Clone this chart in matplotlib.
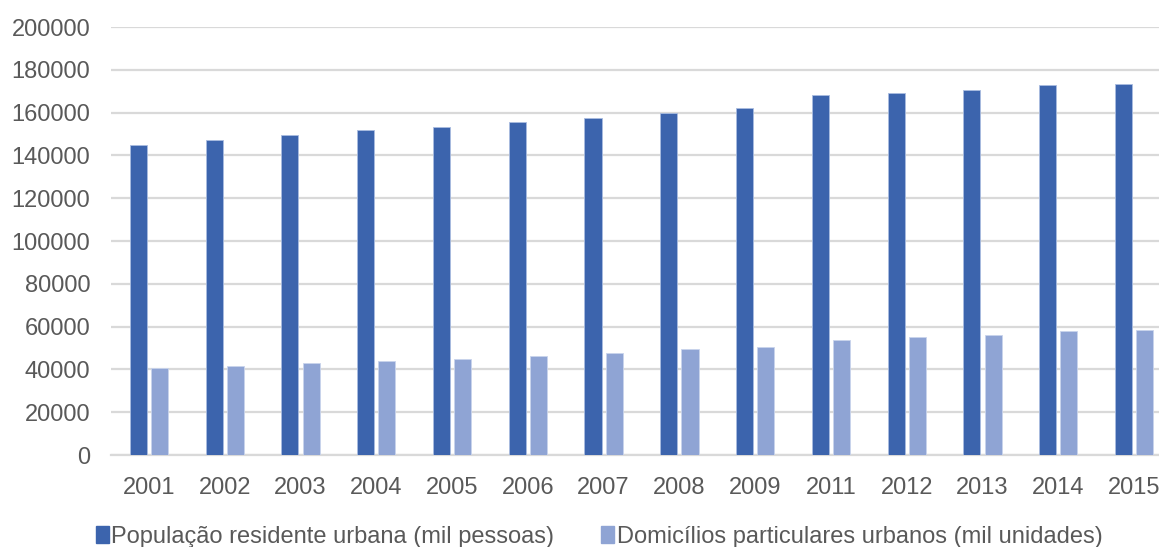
import matplotlib
matplotlib.use('Agg')
import matplotlib.pyplot as plt
import numpy as np
from matplotlib.patches import Patch

anos = ['2001', '2002', '2003', '2004', '2005', '2006', '2007',
        '2008', '2009', '2011', '2012', '2013', '2014', '2015']
populacao = [144900, 147200, 149400, 151700, 153100, 155600, 157500,
             160000, 162000, 168100, 169300, 170700, 172800, 173400]
domicilios = [40500, 41600, 42800, 43900, 45000, 46400, 47700,
              49400, 50300, 53700, 55000, 56100, 57800, 58400]
rotulos = ['População residente urbana (mil pessoas)',
           'Domicílios particulares urbanos (mil unidades)']

cor_pop = '#3C64AD'
cor_dom = '#8FA4D4'
cor_texto = '#595959'
cor_grade = '#D9D9D9'

plt.rcParams['font.family'] = ['Liberation Sans', 'DejaVu Sans']

fig = plt.figure(figsize=(11.59, 5.47), dpi=100)
# eixo passa um pouco da borda direita
ax = fig.add_axes([111 / 1159, 92 / 547, 1061 / 1159, 428 / 547])

x = np.arange(len(anos))
w = 0.225
ax.bar(x - 0.14, populacao, w, color=cor_pop, edgecolor='#A9BCE0', linewidth=0.6, zorder=3)
ax.bar(x + 0.14, domicilios, w, color=cor_dom, edgecolor='#C9D4EC', linewidth=0.6, zorder=3)

ax.set_xlim(-0.5, len(anos) - 0.5)
ax.set_ylim(0, 200000)
ax.set_yticks(np.arange(0, 200001, 20000))
ax.set_xticks(x)
ax.set_xticklabels(anos)
ax.yaxis.grid(True, color=cor_grade, linewidth=1.6, zorder=0)
ax.set_axisbelow(True)
for s in ['top', 'right', 'left']:
    ax.spines[s].set_visible(False)
ax.spines['bottom'].set_color(cor_grade)
ax.spines['bottom'].set_linewidth(1.6)
ax.tick_params(axis='both', length=0, labelsize=17, colors=cor_texto)
ax.tick_params(axis='y', pad=15)
ax.tick_params(axis='x', pad=16)

handles = [Patch(color=cor_pop), Patch(color=cor_dom)]
fig.legend(handles, rotulos, loc='center', bbox_to_anchor=(0.517, 0.019), ncol=2,
           frameon=False, fontsize=17, labelcolor=cor_texto,
           handlelength=0.55, handleheight=0.75, handletextpad=0.1, columnspacing=2.0)

fig.savefig('out.png', dpi=100)
